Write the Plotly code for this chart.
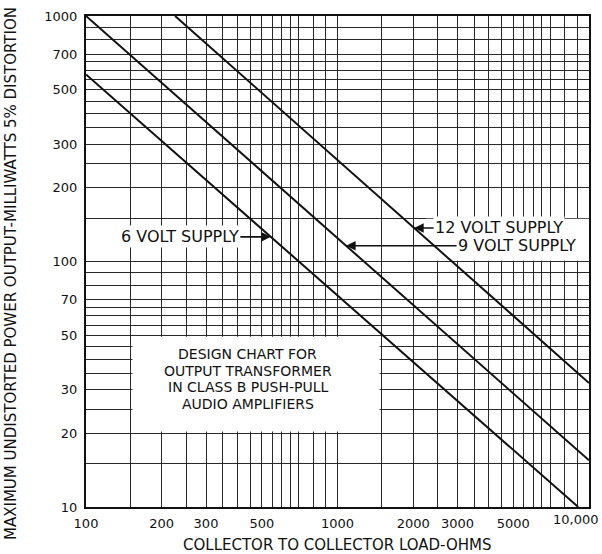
import numpy as np
import plotly.graph_objects as go

# ---------------- data ----------------
# grid lines of the printed chart (log-log paper with custom rulings)
x_grid = [100, 150, 200, 250, 300, 350, 400, 450, 500, 550, 600, 650, 700, 800, 900,
          1000, 1500, 2000, 2500, 3000, 3500, 4000, 4500, 5000, 5500, 6000, 6500, 7000,
          8000, 9000, 10000]
y_grid = [10, 15, 20, 25, 30, 35, 40, 45, 50, 55, 60, 65, 70, 80, 90,
          100, 150, 200, 250, 300, 350, 400, 450, 500, 550, 600, 650, 700, 800, 900, 1000]

x_tick_vals = [100, 200, 300, 500, 1000, 2000, 3000, 5000]
x_tick_text = ["100", "200", "300", "500", "1000", "2000", "3000", "5000"]
x_last_val = 10000
x_last_text = "10,000"
y_tick_vals = [10, 20, 30, 50, 70, 100, 200, 300, 500, 700, 1000]
y_tick_text = ["10", "20", "30", "50", "70", "100", "200", "300", "500", "700", "1000"]

# supply lines (collector-to-collector load in ohms, power in milliwatts)
load_6v = [100, 9060]
power_6v = [578, 10]
load_9v = [100, 10000]
power_9v = [1000, 15.5]
load_12v = [226, 10000]
power_12v = [1000, 32]

label_6v = "6 VOLT SUPPLY"
label_9v = "9 VOLT SUPPLY"
label_12v = "12 VOLT SUPPLY"
# power level at which each label arrow touches its line
arrow_power_6v = 126
arrow_power_9v = 116
arrow_power_12v = 137

note_lines = ["DESIGN CHART FOR", "OUTPUT TRANSFORMER", "IN CLASS B PUSH-PULL", "AUDIO AMPLIFIERS"]
x_title = "COLLECTOR TO COLLECTOR LOAD-OHMS"
y_title = "MAXIMUM UNDISTORTED POWER OUTPUT-MILLIWATTS 5% DISTORTION"

# ---------------- figure ----------------
FONT = "DejaVu Sans"
INK = "#111111"


def x_on_line(xs, ys, p):
    lx = np.log10(xs)
    ly = np.log10(ys)
    t = (np.log10(p) - ly[0]) / (ly[1] - ly[0])
    return lx[0] + t * (lx[1] - lx[0])  # log10 of load


fig = go.Figure()
for xs, ys, name in [(load_6v, power_6v, label_6v),
                     (load_9v, power_9v, label_9v),
                     (load_12v, power_12v, label_12v)]:
    fig.add_trace(go.Scatter(x=xs, y=ys, mode="lines", name=name,
                             line=dict(color=INK, width=2), showlegend=False,
                             hoverinfo="skip"))

x_text_all = [x_tick_text[x_tick_vals.index(v)] if v in x_tick_vals else "" for v in x_grid]
y_text_all = [y_tick_text[y_tick_vals.index(v)] if v in y_tick_vals else "" for v in y_grid]

grid_color = "#2a2a2a"
fig.update_xaxes(type="log", range=[2, 4], tickmode="array", tickvals=x_grid,
                 ticktext=x_text_all, showgrid=True, gridcolor=grid_color, gridwidth=1.3,
                 showline=True, linecolor=INK, linewidth=2, mirror=True,
                 ticks="", ticklabelstandoff=3, zeroline=False,
                 tickfont=dict(family=FONT, size=13, color=INK))
fig.update_yaxes(type="log", range=[1, 3], tickmode="array", tickvals=y_grid,
                 ticktext=y_text_all, showgrid=True, gridcolor=grid_color, gridwidth=1.3,
                 showline=True, linecolor=INK, linewidth=2, mirror=True,
                 ticks="", ticklabelstandoff=4, zeroline=False,
                 tickfont=dict(family=FONT, size=13, color=INK))

# blank areas of the printed chart
fig.add_shape(type="rect", xref="x", yref="y", x0=153, x1=1470, y0=20.3, y1=49.4,
              fillcolor="white", line=dict(width=0), layer="between")
fig.add_shape(type="rect", xref="x", yref="y", x0=2250, x1=10000, y0=100.6, y1=149.2,
              fillcolor="white", line=dict(width=0), layer="between")

annos = []
# arrows with labels
for xs, ys, p, text, ax in [(load_6v, power_6v, arrow_power_6v, label_6v, -91),
                            (load_9v, power_9v, arrow_power_9v, label_9v, 171),
                            (load_12v, power_12v, arrow_power_12v, label_12v, 85)]:
    annos.append(dict(x=x_on_line(xs, ys, p), y=np.log10(p), xref="x", yref="y",
                      text=text, showarrow=True, ax=ax, ay=0, arrowhead=2,
                      arrowsize=1.2, arrowwidth=1.6, arrowcolor=INK,
                      bgcolor="white", borderpad=1,
                      font=dict(family=FONT, size=16, color=INK)))

for i, line in enumerate(note_lines):
    annos.append(dict(x=np.log10(440), y=np.log10(33.2), xref="x", yref="y",
                      text=line, showarrow=False, align="center",
                      yshift=24.6 - 16.4 * i,
                      font=dict(family=FONT, size=14, color=INK)))
annos.append(dict(x=np.log10(x_last_val), y=0, xref="x", yref="paper",
                  text=x_last_text, showarrow=False, xanchor="center", yanchor="top",
                  xshift=-13, yshift=-3, font=dict(family=FONT, size=13, color=INK)))
annos.append(dict(x=0.5, y=-0.077, xref="paper", yref="paper", text=x_title,
                  showarrow=False, xanchor="center", yanchor="middle",
                  font=dict(family=FONT, size=15, color=INK)))
annos.append(dict(x=-0.1477, y=0.476, xref="paper", yref="paper", text=y_title,
                  showarrow=False, textangle=-90, xanchor="center", yanchor="middle",
                  font=dict(family=FONT, size=15, color=INK)))

fig.update_layout(width=602, height=554, margin=dict(l=86, r=13, t=9, b=47),
                  paper_bgcolor="white", plot_bgcolor="white",
                  annotations=annos, showlegend=False)

fig.write_html("out.html", config={"displayModeBar": False},
               post_script="document.body.style.margin='0';")
